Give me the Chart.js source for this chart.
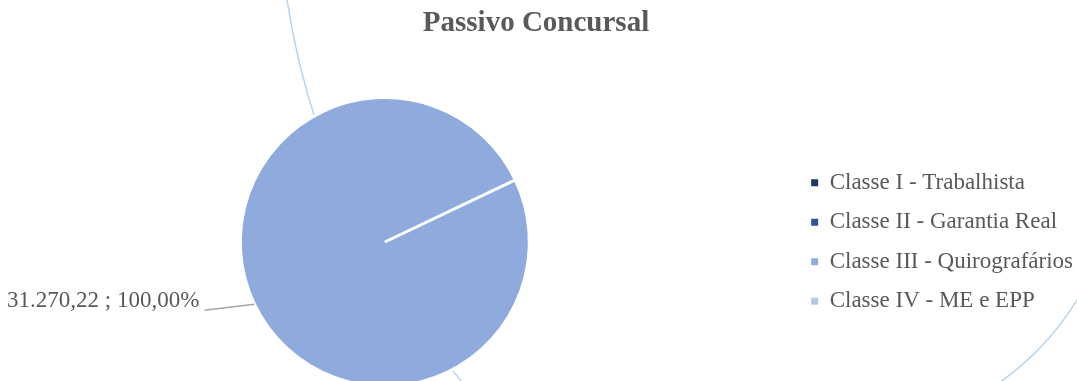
<!DOCTYPE html>
<html><head><meta charset="utf-8">
<script src="https://cdn.jsdelivr.net/npm/chart.js@4/dist/chart.umd.min.js"></script>
<style>
html,body{margin:0;padding:0;background:#fff;overflow:hidden;width:1077px;height:381px}
#wrap{position:absolute;left:-25px;top:0;width:1108px;height:393px}
</style></head>
<body><div id="wrap"><canvas id="c"></canvas></div>
<script>
const categories = ['Classe I - Trabalhista', 'Classe II - Garantia Real', 'Classe III - Quirografários', 'Classe IV - ME e EPP'];
const values = [0, 0, 31270.22, 0];
const colors = ['#203864', '#2F5597', '#8FAADC', '#B4C7E7'];
const chartTitle = 'Passivo Concursal';

function fmtBR(n) {
  const parts = n.toFixed(2).split('.');
  parts[0] = parts[0].replace(/\B(?=(\d{3})+(?!\d))/g, '.');
  return parts[0] + ',' + parts[1];
}

// horizontal offset of the canvas relative to the visible page (wrap starts at -25px)
const PAGE_OFFSET = 25;

const bgDecor = {
  id: 'bgDecor',
  beforeDraw(chart) {
    const ctx = chart.ctx;
    const o = PAGE_OFFSET;
    ctx.save();
    ctx.strokeStyle = 'rgba(170,205,232,0.85)';
    ctx.lineWidth = 1.5;
    ctx.beginPath();
    ctx.arc(o + 1048, -118, 770, 128 * Math.PI / 180, 176 * Math.PI / 180);
    ctx.stroke();
    ctx.beginPath();
    ctx.arc(o + 842, 157, 275, 20 * Math.PI / 180, 62 * Math.PI / 180);
    ctx.stroke();
    ctx.restore();
  },
  afterDraw(chart) {
    const ctx = chart.ctx;
    ctx.save();
    ctx.fillStyle = '#595959';
    ctx.font = 'bold 29px "Liberation Serif"';
    ctx.textAlign = 'center';
    ctx.textBaseline = 'middle';
    ctx.fillText(chartTitle, PAGE_OFFSET + 536, 24);
    ctx.restore();
  }
};

const dataLabel = {
  id: 'dataLabel',
  afterDatasetsDraw(chart) {
    const meta = chart.getDatasetMeta(0);
    const ds = chart.data.datasets[0];
    const total = ds.data.reduce((a, b) => a + b, 0);
    const ctx = chart.ctx;
    meta.data.forEach((arc, i) => {
      const v = ds.data[i];
      if (!v) return;
      const p = arc.getProps(['x', 'y', 'startAngle', 'endAngle', 'outerRadius'], true);
      const mid = (p.startAngle + p.endAngle) / 2;
      const ex = p.x + Math.cos(mid) * p.outerRadius;
      const ey = p.y + Math.sin(mid) * p.outerRadius;
      const sx = ex - 50, sy = ey + 6;
      ctx.save();
      ctx.strokeStyle = '#A6A6A6';
      ctx.lineWidth = 1.5;
      ctx.beginPath();
      ctx.moveTo(sx, sy);
      ctx.lineTo(ex, ey);
      ctx.stroke();
      ctx.fillStyle = '#595959';
      ctx.font = '23px "Liberation Serif"';
      ctx.textAlign = 'right';
      ctx.textBaseline = 'middle';
      ctx.fillText(fmtBR(v) + ' ; ' + fmtBR(v / total * 100) + '%', sx - 5, ey - 3);
      ctx.restore();
    });
  }
};

new Chart(document.getElementById('c'), {
  type: 'pie',
  data: {
    labels: categories,
    datasets: [{
      data: values,
      backgroundColor: colors,
      borderColor: '#ffffff',
      borderWidth: 3,
      hoverOffset: 0
    }]
  },
  options: {
    responsive: true,
    maintainAspectRatio: false,
    animation: false,
    rotation: 64.5,
    layout: { padding: { left: 0, right: 0, top: 96, bottom: 5 } },
    plugins: {
      tooltip: { enabled: false },
      title: { display: false },
      legend: {
        position: 'right',
        labels: {
          boxWidth: 7,
          boxHeight: 7,
          padding: 16.5,
          color: '#595959',
          font: { family: 'Liberation Serif', size: 23 },
          generateLabels(chart) {
            const items = Chart.overrides.pie.plugins.legend.labels.generateLabels(chart);
            items.forEach(it => { it.lineWidth = 0; it.strokeStyle = 'rgba(0,0,0,0)'; });
            return items;
          }
        }
      }
    }
  },
  plugins: [bgDecor, dataLabel]
});
</script>
</body></html>
